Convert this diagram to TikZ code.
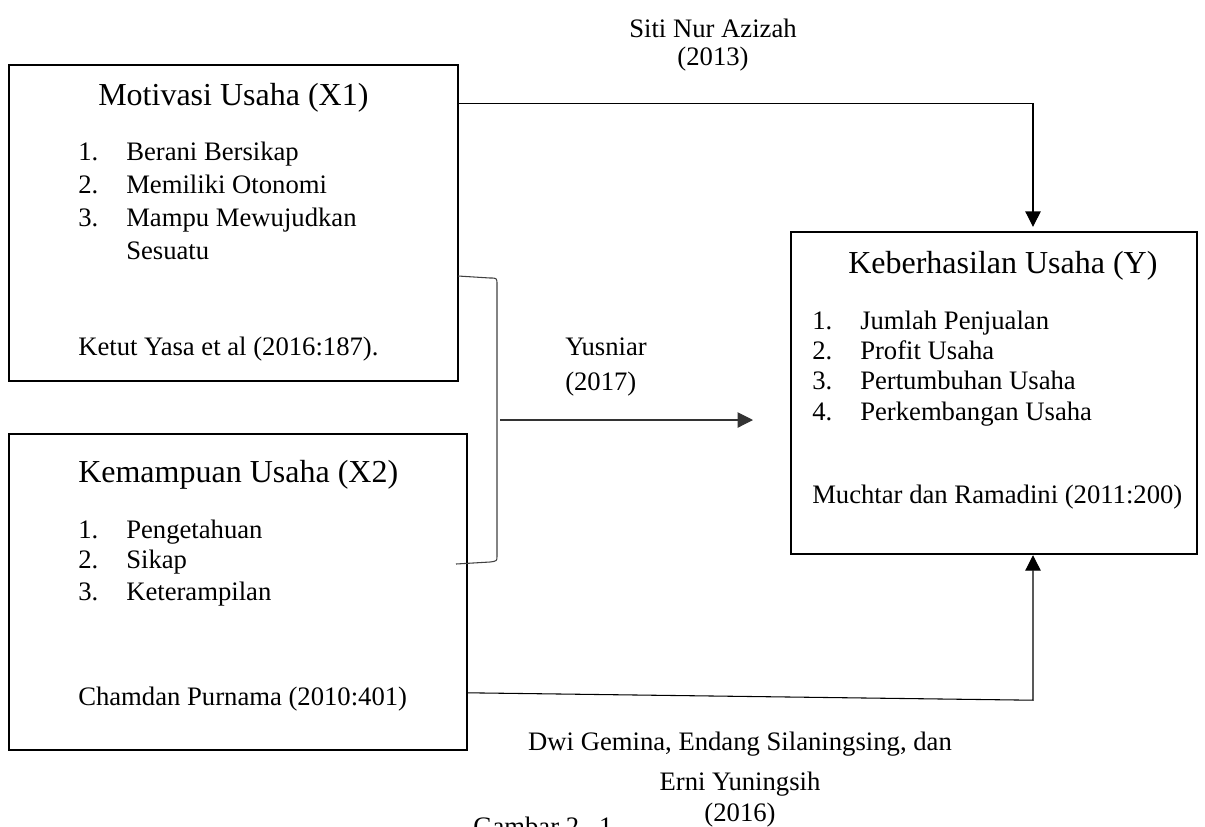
\documentclass[tikz,border=0pt]{standalone}
\usepackage{fontspec}
\setmainfont{Liberation Serif}
\usetikzlibrary{arrows.meta,fit}
\begin{document}
\begin{tikzpicture}[x=0.75pt,y=-0.75pt,
  box/.style={draw, line width=1.8pt, inner sep=0pt},
  body/.style={inner sep=0pt, anchor=base west, font=\fontsize{20}{24}\selectfont},
  ttl/.style={inner sep=0pt, anchor=base west, font=\fontsize{24}{28}\selectfont},
  ctr/.style={inner sep=0pt, anchor=base, font=\fontsize{20}{24}\selectfont},
  conn/.style={line width=0.8pt},
  arr/.style={conn, -{Triangle[length=11.5pt,width=11.5pt]}}]
\useasboundingbox (0,0) rectangle (1205,826);

% boxes
\coordinate (a1) at (9,65);   \coordinate (b1) at (458,381);
\coordinate (a2) at (9,434);  \coordinate (b2) at (467,750);
\coordinate (ay) at (791,232); \coordinate (by) at (1197,554);
\node[box, fit=(a1)(b1)] (x1) {};
\node[box, fit=(a2)(b2)] (x2) {};
\node[box, fit=(ay)(by)] (y) {};

% box X1 text
\node[ttl]  (x1t) at (98,105) {Motivasi Usaha (X1)};
\node[body] (x1n1) at (78,160) {1.};  \node[body] (x1i1) at (126,160) {Berani Bersikap};
\node[body] (x1n2) at (78,193) {2.};  \node[body] (x1i2) at (126,193) {Memiliki Otonomi};
\node[body] (x1n3) at (78,226) {3.};  \node[body] (x1i3) at (126,226) {Mampu Mewujudkan};
\node[body] (x1i4) at (126,259) {Sesuatu};
\node[body] (x1s) at (78,355) {Ketut Yasa et al (2016:187).};

% box X2 text
\node[ttl]  (x2t) at (78,482) {Kemampuan Usaha (X2)};
\node[body] (x2n1) at (78,538) {1.};  \node[body] (x2i1) at (126,538) {Pengetahuan};
\node[body] (x2n2) at (78,568) {2.};  \node[body] (x2i2) at (126,568) {Sikap};
\node[body] (x2n3) at (78,600) {3.};  \node[body] (x2i3) at (126,600) {Keterampilan};
\node[body] (x2s) at (78,705) {Chamdan Purnama (2010:401)};

% box Y text
\node[ttl]  (yt) at (848,273) {Keberhasilan Usaha (Y)};
\node[body] (yn1) at (812,329) {1.};  \node[body] (yi1) at (860,329) {Jumlah Penjualan};
\node[body] (yn2) at (812,359) {2.};  \node[body] (yi2) at (860,359) {Profit Usaha};
\node[body] (yn3) at (812,389) {3.};  \node[body] (yi3) at (860,389) {Pertumbuhan Usaha};
\node[body] (yn4) at (812,420) {4.};  \node[body] (yi4) at (860,420) {Perkembangan Usaha};
\node[body] (ys) at (812,503) {Muchtar dan Ramadini (2011:200)};

% connector labels
\node[ctr]  (l1a) at (713,37) {Siti Nur Azizah};
\node[ctr]  (l1b) at (713,65) {(2013)};
\node[body] (l2a) at (565,355) {Yusniar};
\node[body] (l2b) at (565,390) {(2017)};
\node[ctr]  (l3a) at (740,750) {Dwi Gemina, Endang Silaningsing, dan};
\node[ctr]  (l3b) at (740,790) {Erni Yuningsih};
\node[ctr]  (l3c) at (740,821) {(2016)};
\node[body] (cap) at (473,835) {Gambar 2.\ \ 1};

% connectors
\draw[arr, shorten >=3pt] ([yshift=-30pt]x1.north east) -| ([xshift=29.25pt]y.north);

\draw[conn, black!75] (458,276) -- (490,278) .. controls (497,278) .. (497,285)
  -- (497,556) .. controls (497,561) .. (490,562) -- (456,564);
\coordinate (ms) at (500,420);
\coordinate (me) at (753,420);
\draw[arr, black!80] (ms) -- (me);

\draw[arr] ([yshift=-195pt]x2.north east) -- ([xshift=29.25pt,yshift=-108.75pt]y.south)
  -- ([xshift=29.25pt]y.south);
\end{tikzpicture}
\end{document}
